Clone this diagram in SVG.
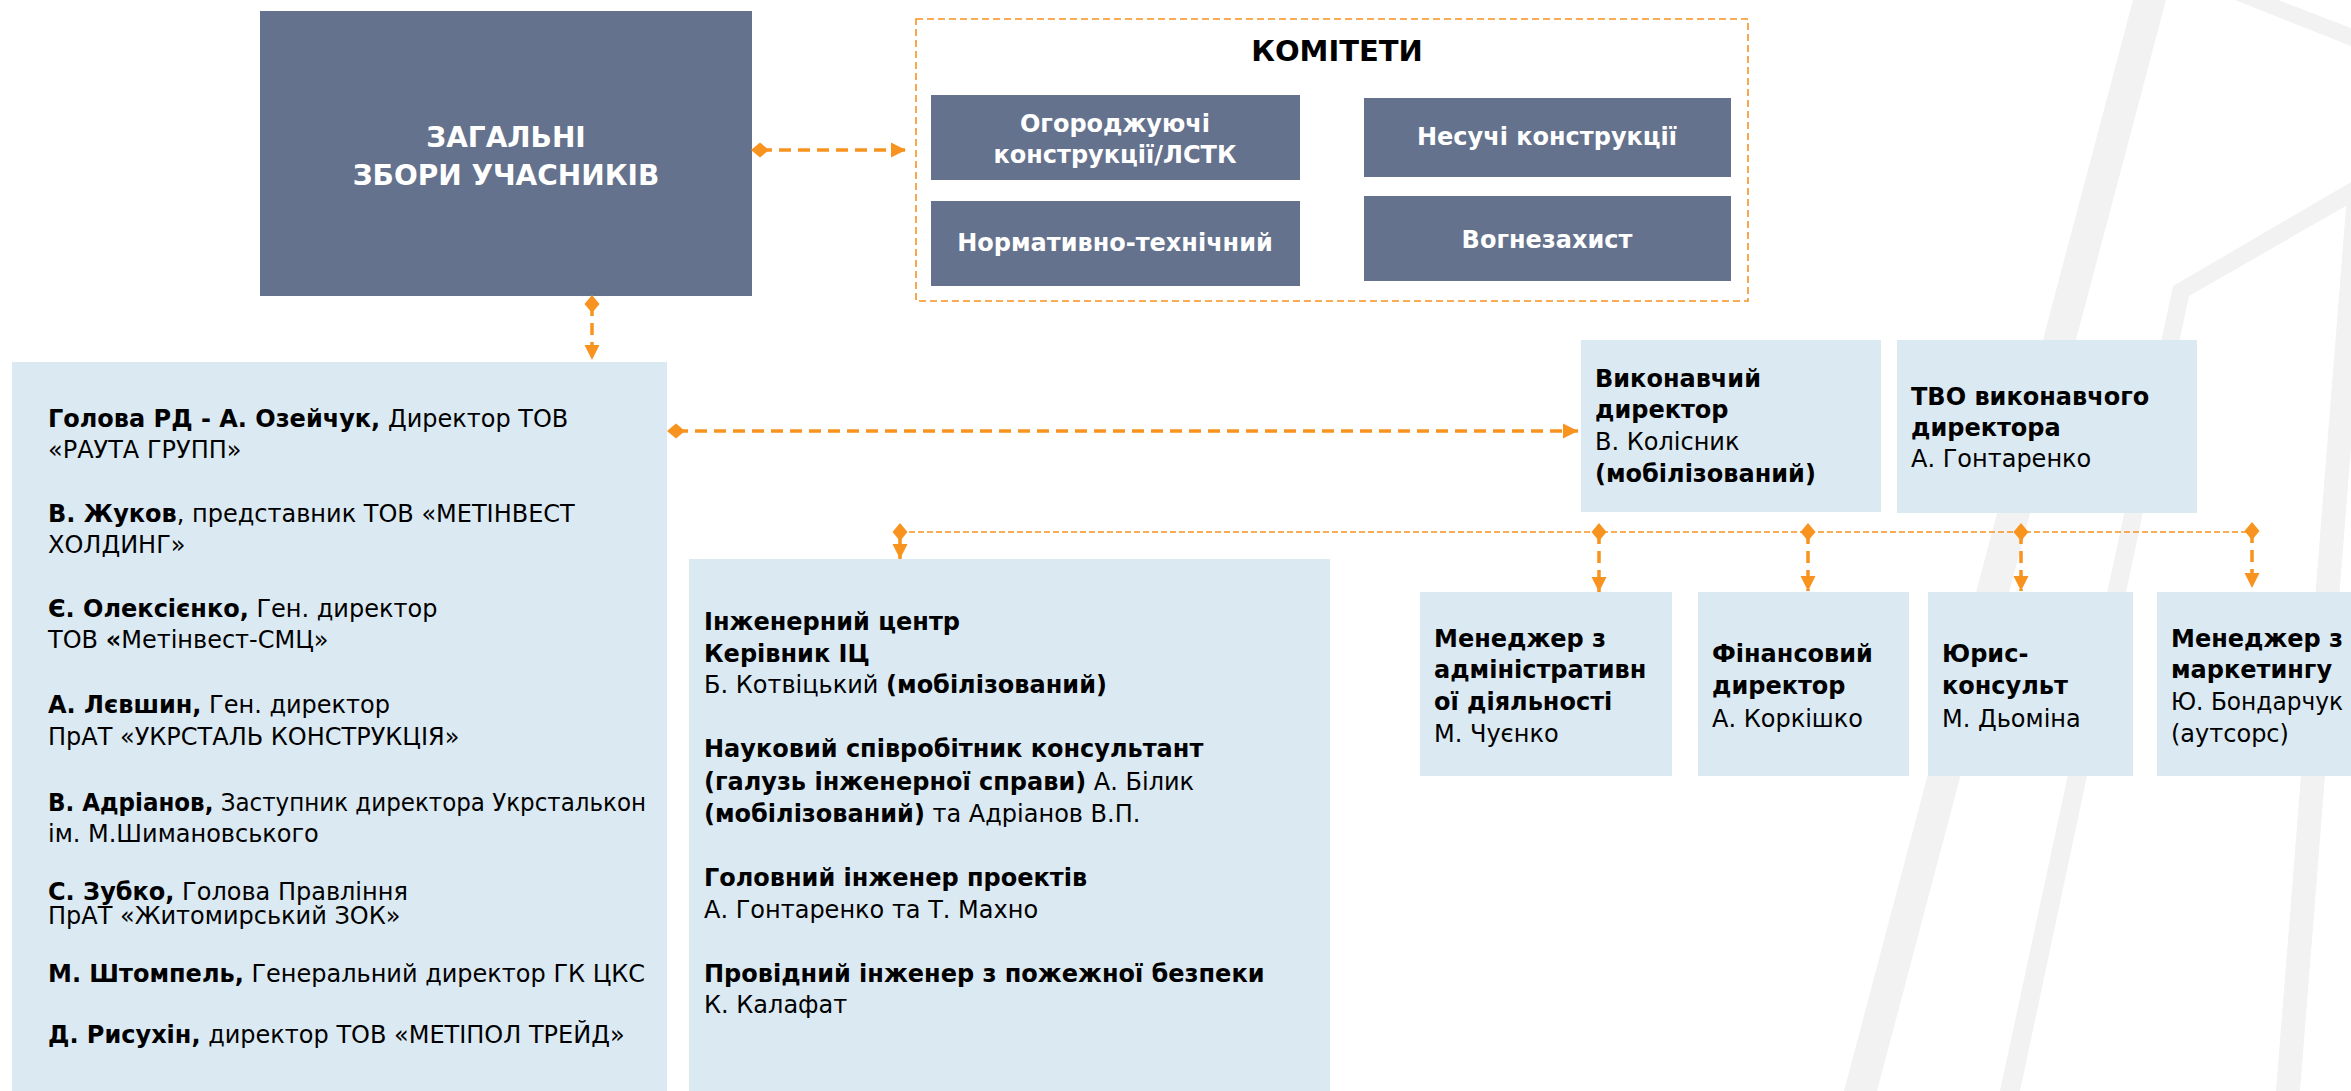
<svg xmlns="http://www.w3.org/2000/svg" width="2351" height="1091" viewBox="0 0 2351 1091">
<defs>
<style>
.dark{fill:#64728d}
.light{fill:#dbe9f2}
.stripe{fill:#f2f2f2}
text{font-family:'DejaVu Sans',Verdana,sans-serif;font-size:24px;fill:#000}
.b{font-weight:bold}
.w{fill:#fff;font-weight:bold;text-anchor:middle}
.conn{stroke:#f7931e;stroke-width:3.5;stroke-dasharray:12 7;fill:none}
.bus{stroke:#f7931e;stroke-width:1.6;stroke-dasharray:6 3;fill:none}
.frame{stroke:#f7931e;stroke-width:1.6;stroke-dasharray:7 4;fill:none}
</style>
<marker id="dia" viewBox="-9 -8 18 16" markerWidth="18" markerHeight="16" refX="0" refY="0" orient="auto" markerUnits="userSpaceOnUse">
<path d="M-9,0 L0,-7.5 L9,0 L0,7.5 Z" fill="#f7931e"/>
</marker>
<marker id="arr" viewBox="-15 -8 15 16" markerWidth="15" markerHeight="16" refX="0" refY="0" orient="auto" markerUnits="userSpaceOnUse">
<path d="M-15,-7.5 L0,0 L-15,7.5 Z" fill="#f7931e"/>
</marker>
</defs>
<rect width="2351" height="1091" fill="#fff"/>
<g id="background">
<polygon class="stripe" points="2133,0 2166,0 1877,1091 1844,1091"/>
<polygon class="stripe" points="2351,182 2351,203 2189,296 2020,1091 2000,1091 2173,286"/>
<polygon class="stripe" points="2347,195 2371,195 2300,1091 2276,1091"/>
<polygon class="stripe" points="2235,0 2278,0 2351,28 2351,46"/>
</g>

<g id="general-meeting">
<rect class="dark" x="260" y="11" width="492" height="285"/>
<text class="w" x="506" y="147" style="font-size:28px">ЗАГАЛЬНІ</text>
<text class="w" x="506" y="185" style="font-size:28px">ЗБОРИ УЧАСНИКІВ</text>
</g>

<g id="committees">
<rect class="frame" x="916" y="19" width="832" height="282"/>
<text x="1337" y="61" style="font-size:29px;font-weight:bold;text-anchor:middle">КОМІТЕТИ</text>
</g>
<g id="committee-enclosing">
<rect class="dark" x="931" y="95" width="369" height="85"/>
<text class="w" x="1115" y="132">Огороджуючі</text>
<text class="w" x="1115" y="163">конструкції/ЛСТК</text>
</g>
<g id="committee-bearing">
<rect class="dark" x="1364" y="98" width="367" height="79"/>
<text class="w" x="1547" y="145">Несучі конструкції</text>
</g>
<g id="committee-normative">
<rect class="dark" x="931" y="201" width="369" height="85"/>
<text class="w" x="1115" y="251">Нормативно-технічний</text>
</g>
<g id="committee-fire">
<rect class="dark" x="1364" y="196" width="367" height="85"/>
<text class="w" x="1547" y="248">Вогнезахист</text>
</g>

<g id="board">
<rect class="light" x="12" y="362" width="655" height="729"/>
<text x="48" y="427"><tspan class="b">Голова РД - А. Озейчук,</tspan> Директор ТОВ</text>
<text x="48" y="458">«РАУТА ГРУПП»</text>
<text x="48" y="522"><tspan class="b">В. Жуков</tspan>, представник ТОВ «МЕТІНВЕСТ</text>
<text x="48" y="553">ХОЛДИНГ»</text>
<text x="48" y="617"><tspan class="b">Є. Олексієнко,</tspan> Ген. директор</text>
<text x="48" y="648">ТОВ <tspan class="b">«</tspan>Метінвест-СМЦ»</text>
<text x="48" y="713"><tspan class="b">А. Лєвшин,</tspan> Ген. директор</text>
<text x="48" y="745">ПрАТ «УКРСТАЛЬ КОНСТРУКЦІЯ»</text>
<text x="48" y="811" textLength="598" lengthAdjust="spacingAndGlyphs"><tspan class="b">В. Адріанов,</tspan> Заступник директора Укрсталькон</text>
<text x="48" y="842">ім. М.Шимановського</text>
<text x="48" y="900"><tspan class="b">С. Зубко,</tspan> Голова Правління</text>
<text x="48" y="924">ПрАТ «Житомирський ЗОК»</text>
<text x="48" y="982"><tspan class="b">М. Штомпель,</tspan> Генеральний директор ГК ЦКС</text>
<text x="48" y="1043"><tspan class="b">Д. Рисухін,</tspan> директор ТОВ «МЕТІПОЛ ТРЕЙД»</text>
</g>

<g id="engineering-center">
<rect class="light" x="689" y="559" width="641" height="532"/>
<text x="704" y="630" class="b">Інженерний центр</text>
<text x="704" y="662" class="b">Керівник ІЦ</text>
<text x="704" y="693">Б. Котвіцький <tspan class="b">(мобілізований)</tspan></text>
<text x="704" y="757" class="b">Науковий співробітник консультант</text>
<text x="704" y="790"><tspan class="b">(галузь інженерної справи)</tspan> А. Білик</text>
<text x="704" y="822"><tspan class="b">(мобілізований)</tspan> та Адріанов В.П.</text>
<text x="704" y="886" class="b">Головний інженер проектів</text>
<text x="704" y="918">А. Гонтаренко та Т. Махно</text>
<text x="704" y="982" class="b">Провідний інженер з пожежної безпеки</text>
<text x="704" y="1013">К. Калафат</text>
</g>

<g id="executive-director">
<rect class="light" x="1581" y="340" width="300" height="172"/>
<text x="1595" y="387" class="b">Виконавчий</text>
<text x="1595" y="418" class="b">директор</text>
<text x="1595" y="450">В. Колісник</text>
<text x="1595" y="482" class="b">(мобілізований)</text>
</g>

<g id="acting-executive-director">
<rect class="light" x="1897" y="340" width="300" height="173"/>
<text x="1911" y="405" class="b">ТВО виконавчого</text>
<text x="1911" y="436" class="b">директора</text>
<text x="1911" y="467">А. Гонтаренко</text>
</g>

<g id="admin-manager">
<rect class="light" x="1420" y="592" width="252" height="184"/>
<text x="1434" y="647" class="b">Менеджер з</text>
<text x="1434" y="678" class="b">адміністративн</text>
<text x="1434" y="710" class="b">ої діяльності</text>
<text x="1434" y="742">М. Чуєнко</text>
</g>

<g id="finance-director">
<rect class="light" x="1698" y="592" width="211" height="184"/>
<text x="1712" y="662" class="b">Фінансовий</text>
<text x="1712" y="694" class="b">директор</text>
<text x="1712" y="727">А. Коркішко</text>
</g>

<g id="legal-counsel">
<rect class="light" x="1928" y="592" width="205" height="184"/>
<text x="1942" y="662" class="b">Юрис-</text>
<text x="1942" y="694" class="b">консульт</text>
<text x="1942" y="727">М. Дьоміна</text>
</g>

<g id="marketing-manager">
<rect class="light" x="2157" y="592" width="194" height="184"/>
<text x="2171" y="647" class="b">Менеджер з</text>
<text x="2171" y="678" class="b">маркетингу</text>
<text x="2171" y="710" textLength="172" lengthAdjust="spacingAndGlyphs">Ю. Бондарчук</text>
<text x="2171" y="742">(аутсорс)</text>
</g>

<g id="connectors">
<path class="conn" d="M760,150 H906" marker-start="url(#dia)" marker-end="url(#arr)"/>
<path class="conn" d="M592,304 V360" marker-start="url(#dia)" marker-end="url(#arr)"/>
<path class="conn" d="M676,431 H1578" marker-start="url(#dia)" marker-end="url(#arr)"/>
<path class="bus" d="M900,532 H2252"/>
<path class="conn" d="M900,532 V559" marker-start="url(#dia)" marker-end="url(#arr)"/>
<path class="conn" d="M1599,532 V592" marker-start="url(#dia)" marker-end="url(#arr)"/>
<path class="conn" d="M1808,532 V591" marker-start="url(#dia)" marker-end="url(#arr)"/>
<path class="conn" d="M2021,532 V591" marker-start="url(#dia)" marker-end="url(#arr)"/>
<path class="conn" d="M2252,531 V588" marker-start="url(#dia)" marker-end="url(#arr)"/>
</g>
</svg>
